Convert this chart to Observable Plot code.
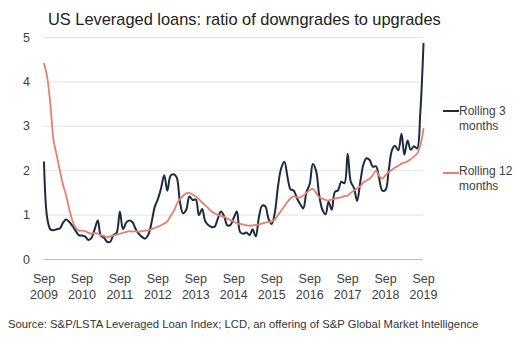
<!DOCTYPE html>
<html><head><meta charset="utf-8">
<script src="https://cdn.jsdelivr.net/npm/d3@7"></script>
<script src="https://cdn.jsdelivr.net/npm/@observablehq/plot@0.6"></script>
<style>
body{margin:0;background:#fff;font-family:"Liberation Sans",Arial,sans-serif;}
#wrap{position:relative;width:519px;height:337px;overflow:hidden;background:#fff}
#title{position:absolute;left:48px;top:10px;font-size:16.4px;line-height:19px;color:#222;white-space:nowrap}
#chart{position:absolute;left:0;top:30px}
.leg{position:absolute;left:459px;font-size:12px;line-height:15px;color:#404040;white-space:nowrap}
.sw{position:absolute;left:443px;width:16px;height:2px}
#src{position:absolute;left:8px;top:318px;font-size:11.3px;line-height:13px;color:#333;white-space:nowrap}
</style></head>
<body>
<div id="wrap">
  <div id="title">US Leveraged loans: ratio of downgrades to upgrades</div>
  <div id="chart"></div>
  <div class="sw" style="top:110px;background:#1d2b40"></div>
  <div class="leg" style="top:104px">Rolling 3<br>months</div>
  <div class="sw" style="top:172px;background:#e5806f"></div>
  <div class="leg" style="top:164px">Rolling 12<br>months</div>
  <div id="src">Source: S&amp;P/LSTA Leveraged Loan Index; LCD, an offering of S&amp;P Global Market Intelligence</div>
</div>
<script>
// Monthly observations, Sep 2009 .. Sep 2019
const startMonth = "2009-09-01";
const endMonth = "2019-10-01";

const rolling3 = [
  2.19, 0.95, 0.68, 0.66, 0.68, 0.70, 0.82, 0.90, 0.85, 0.76,
  0.65, 0.55, 0.54, 0.52, 0.44, 0.48, 0.68, 0.88, 0.54, 0.49,
  0.40, 0.40, 0.55, 0.60, 1.08, 0.68, 0.83, 0.88, 0.84, 0.68,
  0.58, 0.51, 0.47, 0.56, 0.82, 1.18, 1.36, 1.60, 1.90, 1.55,
  1.89, 1.92, 1.85, 1.30, 1.04, 1.12, 1.42, 1.34, 1.35, 1.00,
  1.14, 0.86, 0.77, 0.73, 0.74, 0.92, 1.08, 0.97, 0.77, 0.78,
  0.94, 1.08, 0.62, 0.58, 0.61, 0.55, 0.68, 0.52, 0.95, 1.21,
  1.20, 0.92, 0.80, 1.05, 1.65, 2.05, 2.20, 1.85, 1.58, 1.55,
  1.38, 1.25, 1.15, 1.52, 1.70, 2.15, 2.00, 1.45, 1.12, 1.02,
  1.30, 1.12, 1.52, 1.56, 1.75, 1.72, 2.38, 1.75, 1.61, 1.32,
  1.75, 2.15, 2.28, 2.24, 2.09, 2.10, 1.83, 1.55, 1.57, 2.00,
  2.46, 2.56, 2.46, 2.83, 2.36, 2.68, 2.47, 2.55, 2.50, 3.30,
  4.86
];

const rolling12 = [
  4.41, 4.12, 3.50, 2.70, 2.35, 2.00, 1.70, 1.45, 1.15, 0.88,
  0.72, 0.65, 0.65, 0.64, 0.60, 0.58, 0.60, 0.58, 0.55, 0.53,
  0.50, 0.52, 0.54, 0.56, 0.58, 0.60, 0.62, 0.64, 0.63, 0.64,
  0.63, 0.64, 0.65, 0.66, 0.68, 0.71, 0.74, 0.77, 0.81, 0.86,
  0.98, 1.09, 1.24, 1.36, 1.43, 1.49, 1.50, 1.46, 1.42, 1.36,
  1.28, 1.22, 1.15, 1.08, 1.04, 1.00, 0.98, 0.96, 0.92, 0.89,
  0.86, 0.81, 0.80, 0.79, 0.77, 0.76, 0.77, 0.78, 0.79, 0.81,
  0.83, 0.84, 0.86, 0.90, 1.00, 1.10, 1.20, 1.30, 1.38, 1.42,
  1.40, 1.40, 1.44, 1.50, 1.56, 1.59, 1.50, 1.40, 1.37, 1.34,
  1.33, 1.35, 1.37, 1.39, 1.40, 1.43, 1.44, 1.50, 1.55, 1.60,
  1.65, 1.74, 1.78, 1.82, 1.90, 2.00, 1.88, 1.82, 1.90, 1.97,
  2.02, 2.07, 2.11, 2.16, 2.18, 2.21, 2.26, 2.32, 2.38, 2.57,
  2.94
];

const tickYears = [2009, 2010, 2011, 2012, 2013, 2014, 2015, 2016, 2017, 2018, 2019];
const tickMonthLabel = "Sep";
const yTicks = [0, 1, 2, 3, 4, 5];

const months = d3.utcMonth.range(new Date(startMonth), new Date(endMonth));
const data3 = months.map((d, i) => ({date: d, value: rolling3[i]}));
const data12 = months.map((d, i) => ({date: d, value: rolling12[i]}));
const xTicks = tickYears.map(y => new Date(Date.UTC(y, 8, 1)));

const chart = Plot.plot({
  width: 519,
  height: 280,
  marginLeft: 43.5,
  marginRight: 96,
  marginTop: 7,
  marginBottom: 51,
  style: {fontFamily: '"Liberation Sans", Arial, sans-serif', fontSize: "12.5px", color: "#404040", background: "#fff"},
  x: {type: "utc", domain: [xTicks[0], xTicks[xTicks.length - 1]]},
  y: {domain: [0, 5]},
  marks: [
    Plot.gridY(yTicks.filter(t => t > 0), {stroke: "#e3e3e3", strokeOpacity: 1, strokeWidth: 1}),
    Plot.ruleY([0], {stroke: "#bdbdbd", strokeWidth: 1.2}),
    Plot.axisY({ticks: yTicks, tickSize: 0, tickPadding: 14, label: null, tickFormat: d => String(d)}),
    Plot.axisX({ticks: xTicks, tickSize: 0, tickPadding: 12, label: null, lineHeight: 1.28,
      tickFormat: d => tickMonthLabel + "\n" + d.getUTCFullYear()}),
    Plot.line(data3, {x: "date", y: "value", stroke: "#1d2b40", strokeWidth: 2, curve: "catmull-rom"}),
    Plot.line(data12, {x: "date", y: "value", stroke: "#e5806f", strokeWidth: 1.8, curve: "catmull-rom"})
  ]
});
document.getElementById("chart").appendChild(chart);
</script>
</body></html>
